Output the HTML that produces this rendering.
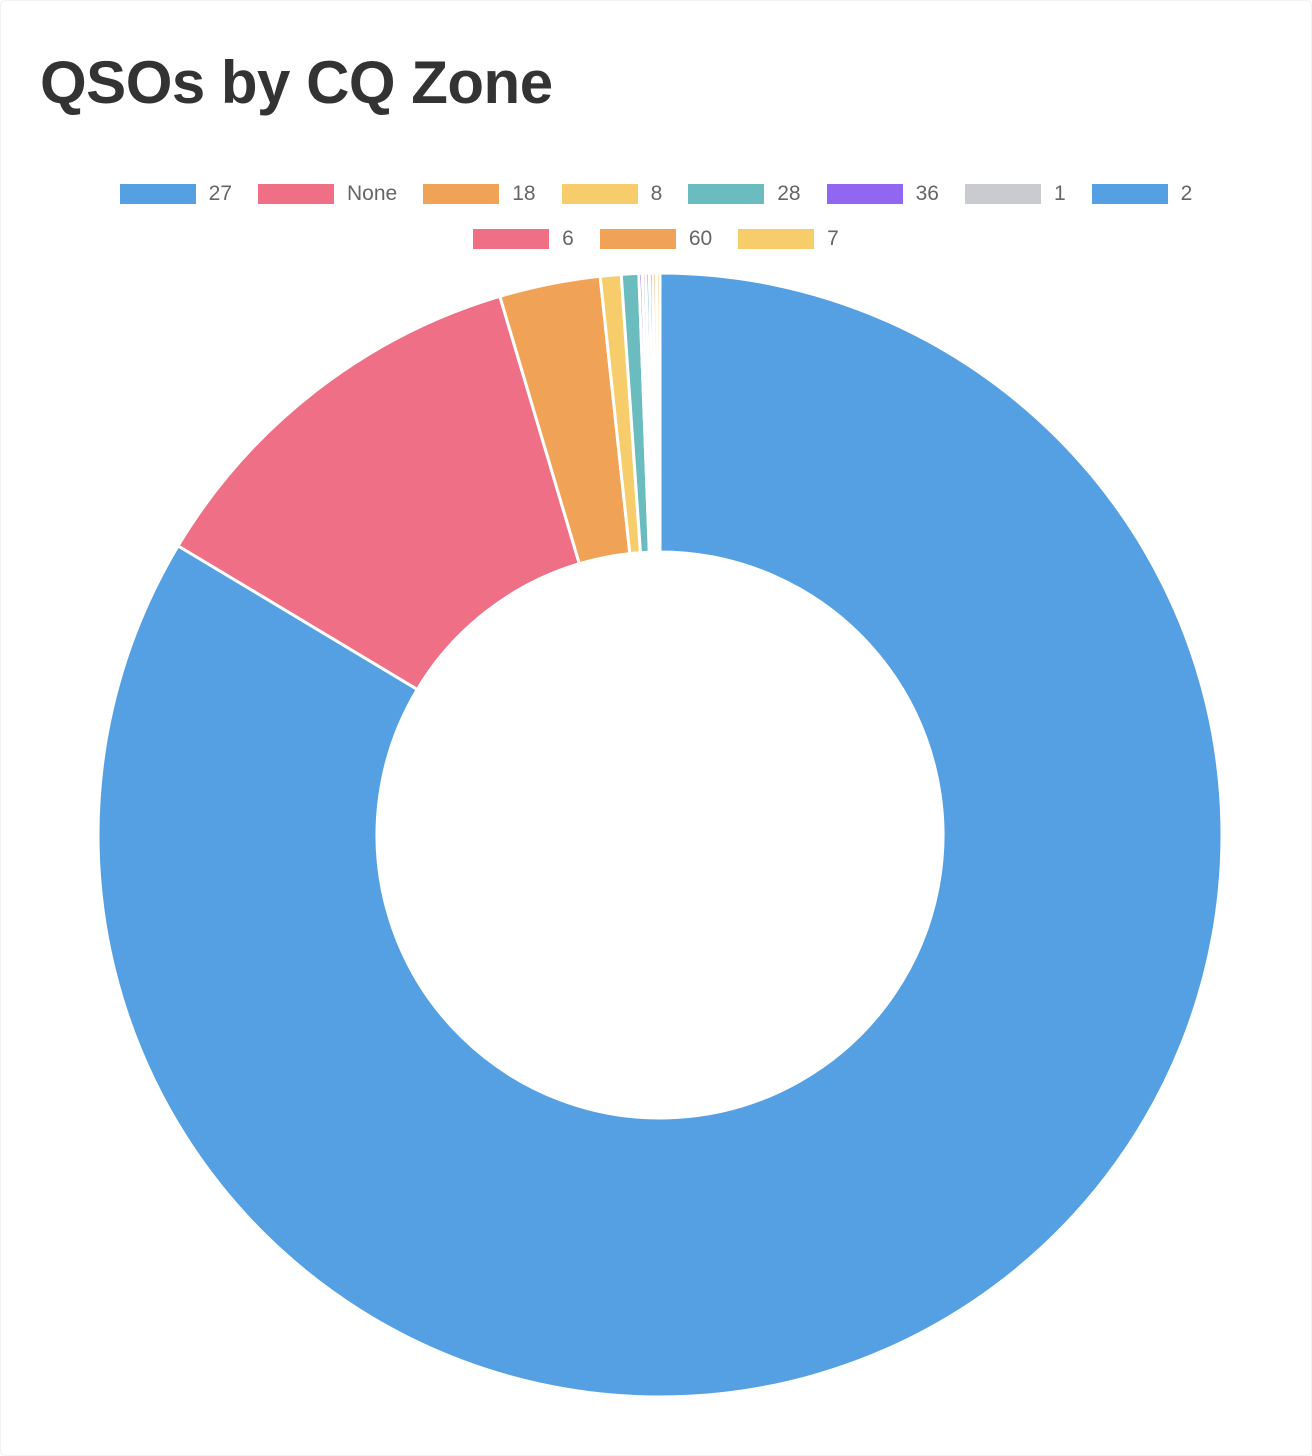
<!DOCTYPE html>
<html><head><meta charset="utf-8"><style>
html,body{margin:0;padding:0;background:#fff;}
body{width:1312px;height:1456px;position:relative;overflow:hidden;font-family:"Liberation Sans",Arial,sans-serif;}
.card{position:absolute;left:0;top:0;width:1310px;height:1454px;border:1px solid #f2f2f2;border-radius:6px;}
h1{position:absolute;left:40px;top:48px;margin:0;font-size:60px;font-weight:bold;color:#333;letter-spacing:-0.5px;}
.row{position:absolute;left:0;width:1312px;display:flex;justify-content:center;gap:26px;}
.item{display:flex;align-items:center;font-size:21px;color:#666;}
.box{width:76px;height:20px;margin-right:13px;}
</style></head><body>
<div class="card"></div>
<h1>QSOs by CQ Zone</h1>
<div class="row" id="row1" style="top:182px"></div>
<div class="row" id="row2" style="top:227px"></div>
<svg id="chart" width="1312" height="1456" style="position:absolute;left:0;top:0"></svg>
<script>
const labels=["27","None","18","8","28","36","1","2","6","60","7"];
const values=[836,118,29,6,5,1,1,1,1,1,1];
const colors=["#54a0e3","#ee6f86","#f0a356","#f7cc6b","#6bbcbf","#9166f0","#c9cbcf","#54a0e3","#ee6f86","#f0a356","#f7cc6b"];
const NS="http://www.w3.org/2000/svg";
const cx=660,cy=835,R=562,r=283;
const svg=document.getElementById('chart');
const total=values.reduce((a,b)=>a+b,0);
let a0=0;
function pt(rad,a){return [cx+rad*Math.sin(a),cy-rad*Math.cos(a)];}
values.forEach((v,i)=>{
  const a1=a0+v/total*2*Math.PI;
  const large=(a1-a0)>Math.PI?1:0;
  const p1=pt(R,a0),p2=pt(R,a1),p3=pt(r,a1),p4=pt(r,a0);
  const p=document.createElementNS(NS,'path');
  p.setAttribute('d',`M${p1[0]},${p1[1]} A${R},${R} 0 ${large} 1 ${p2[0]},${p2[1]} L${p3[0]},${p3[1]} A${r},${r} 0 ${large} 0 ${p4[0]},${p4[1]} Z`);
  p.setAttribute('fill',colors[i]);
  p.setAttribute('stroke','#fff');
  p.setAttribute('stroke-width','3');
  
  
  svg.appendChild(p);
  a0=a1;
});
labels.forEach((l,i)=>{
  const it=document.createElement('div');
  it.className='item';
  
  
  const b=document.createElement('div');
  b.className='box';b.style.background=colors[i];
  const t=document.createElement('span');t.textContent=l;
  it.appendChild(b);it.appendChild(t);
  document.getElementById(i<8?'row1':'row2').appendChild(it);
});
</script>
</body></html>
